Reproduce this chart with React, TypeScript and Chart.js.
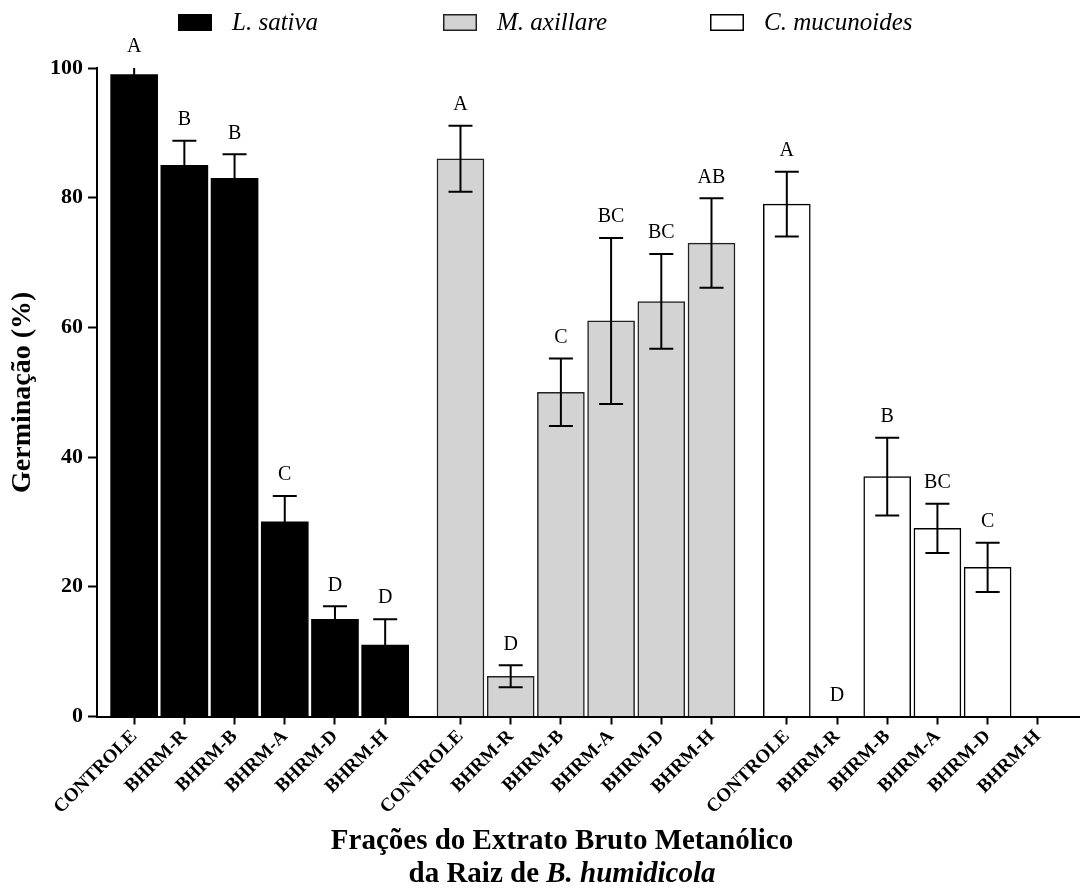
import React, { useEffect, useRef } from 'react';
import { Chart, registerables } from 'chart.js';

Chart.register(...registerables);

const CATEGORIES = ['CONTROLE', 'BHRM-R', 'BHRM-B', 'BHRM-A', 'BHRM-D', 'BHRM-H'];
const SPECIES = ['L. sativa', 'M. axillare', 'C. mucunoides'];

const POS_SATIVA = [0, 1, 2, 3, 4, 5];
const POS_AXILLARE = [6.5, 7.5, 8.5, 9.5, 10.5, 11.5];
const POS_MUCUNOIDES = [13, 14, 15, 16, 17, 18];

const VAL_SATIVA = [99, 85, 83, 30, 15, 11];
const VAL_AXILLARE = [86, 6.2, 50, 61, 64, 73];
const VAL_MUCUNOIDES = [79, 0, 37, 29, 23, 0];

const ERR_SATIVA = [1.3, 3.8, 3.7, 4, 2, 4];
const ERR_AXILLARE = [5.1, 1.7, 5.2, 12.8, 7.3, 6.9];
const ERR_MUCUNOIDES = [5, 0, 6, 3.8, 3.8, 0];

const LET_SATIVA = ['A', 'B', 'B', 'C', 'D', 'D'];
const LET_AXILLARE = ['A', 'D', 'C', 'BC', 'BC', 'AB'];
const LET_MUCUNOIDES = ['A', 'D', 'B', 'BC', 'C', ''];

const Y_TICKS = [0, 20, 40, 60, 80, 100];

const FONT = '"Liberation Serif", "Times New Roman", serif';

const POSITIONS = [POS_SATIVA, POS_AXILLARE, POS_MUCUNOIDES];
const VALUES = [VAL_SATIVA, VAL_AXILLARE, VAL_MUCUNOIDES];
const ERRORS = [ERR_SATIVA, ERR_AXILLARE, ERR_MUCUNOIDES];
const LETTERS = [LET_SATIVA, LET_AXILLARE, LET_MUCUNOIDES];
const FILLS = ['#000000', '#d3d3d3', '#ffffff'];
const BORDERS = ['#000000', '#222222', '#000000'];
const BORDER_W = [0, 1.5, 1.5];

const ALL_POS = [...POS_SATIVA, ...POS_AXILLARE, ...POS_MUCUNOIDES];
const ALL_LABELS = [...CATEGORIES, ...CATEGORIES, ...CATEGORIES];

const errorPlugin = {
  id: 'errorLetters',
  afterDatasetsDraw(chart: any) {
    const { ctx, scales, chartArea } = chart;
    const xs = scales.x;
    const ys = scales.y;
    ctx.save();
    ctx.beginPath();
    ctx.rect(chartArea.left, chartArea.top, chartArea.right - chartArea.left, chartArea.bottom - chartArea.top);
    ctx.clip();
    ctx.strokeStyle = '#000';
    ctx.lineWidth = 2;
    chart.data.datasets.forEach((ds: any, di: number) => {
      const errs = ERRORS[di];
      ds.data.forEach((p: any, i: number) => {
        const e = errs[i];
        if (e <= 0) return;
        const px = xs.getPixelForValue(p.x);
        const yt = ys.getPixelForValue(p.y + e);
        const yb = ys.getPixelForValue(p.y - e);
        ctx.beginPath();
        ctx.moveTo(px, yb);
        ctx.lineTo(px, yt);
        ctx.moveTo(px - 12, yt);
        ctx.lineTo(px + 12, yt);
        ctx.moveTo(px - 12, yb);
        ctx.lineTo(px + 12, yb);
        ctx.stroke();
      });
    });
    ctx.restore();
    ctx.save();
    ctx.fillStyle = '#000';
    ctx.font = `20px ${FONT}`;
    ctx.textAlign = 'center';
    ctx.textBaseline = 'middle';
    chart.data.datasets.forEach((ds: any, di: number) => {
      const errs = ERRORS[di];
      const lets = LETTERS[di];
      ds.data.forEach((p: any, i: number) => {
        if (!lets[i]) return;
        const px = xs.getPixelForValue(p.x);
        const yt = Math.max(ys.getPixelForValue(p.y + errs[i]), chartArea.top);
        ctx.fillText(lets[i], px, yt - 21);
      });
    });
    ctx.restore();
  },
};

const legendPlugin = {
  id: 'customLegend',
  afterDraw(chart: any) {
    const { ctx } = chart;
    const starts = [178, 443, 710];
    ctx.save();
    chart.data.datasets.forEach((ds: any, i: number) => {
      const x = starts[i];
      const y = 14;
      ctx.fillStyle = ds.backgroundColor;
      ctx.fillRect(x, y, 34, 17);
      if (ds.borderWidth > 0) {
        ctx.strokeStyle = ds.borderColor;
        ctx.lineWidth = 1.5;
        ctx.strokeRect(x + 0.75, y + 0.75, 32.5, 15.5);
      }
      ctx.fillStyle = '#000';
      ctx.font = `italic 25px ${FONT}`;
      ctx.textAlign = 'left';
      ctx.textBaseline = 'middle';
      ctx.fillText(ds.label, x + 54, y + 9);
    });
    ctx.restore();
  },
};

const xTitlePlugin = {
  id: 'xTitle',
  afterDraw(chart: any) {
    const { ctx } = chart;
    const cx = 562;
    ctx.save();
    ctx.fillStyle = '#000';
    ctx.textBaseline = 'middle';
    ctx.textAlign = 'center';
    ctx.font = `bold 29px ${FONT}`;
    ctx.fillText('Frações do Extrato Bruto Metanólico', cx, 842);
    const a = 'da Raiz de ';
    const b = 'B. humidicola';
    ctx.font = `bold 29px ${FONT}`;
    const wa = ctx.measureText(a).width;
    ctx.font = `bold italic 29px ${FONT}`;
    const wb = ctx.measureText(b).width;
    const x0 = cx - (wa + wb) / 2;
    ctx.textAlign = 'left';
    ctx.font = `bold 29px ${FONT}`;
    ctx.fillText(a, x0, 875);
    ctx.font = `bold italic 29px ${FONT}`;
    ctx.fillText(b, x0 + wa, 875);
    ctx.restore();
  },
};

export default function App() {
  const ref = useRef<HTMLCanvasElement>(null);
  useEffect(() => {
    if (!ref.current) return;
    const datasets = SPECIES.map((name, di) => ({
      label: name,
      data: POSITIONS[di].map((x, i) => ({ x, y: VALUES[di][i] })),
      backgroundColor: FILLS[di],
      borderColor: BORDERS[di],
      borderWidth: BORDER_W[di],
      barThickness: 47,
      grouped: false,
    }));
    const chart = new Chart(ref.current, {
      type: 'bar',
      data: { datasets } as any,
      options: {
        responsive: false,
        animation: false,
        layout: { padding: { top: 68, right: 0, left: 0, bottom: 0 } },
        plugins: {
          legend: { display: false },
          tooltip: { enabled: false },
        },
        scales: {
          x: {
            type: 'linear',
            min: -0.74,
            max: 18.84,
            offset: false,
            afterBuildTicks: (scale: any) => {
              scale.ticks = ALL_POS.map((v) => ({ value: v }));
            },
            afterFit: (scale: any) => {
              scale.height = 173.5;
            },
            ticks: {
              autoSkip: false,
              minRotation: 45,
              maxRotation: 45,
              padding: 1,
              color: '#000',
              font: { family: FONT, size: 19, weight: 'bold' },
              callback: (_v: any, i: number) => ALL_LABELS[i],
            },
            grid: {
              display: true,
              offset: false,
              drawOnChartArea: false,
              drawTicks: true,
              tickLength: 8,
              tickColor: '#000',
              tickWidth: 2,
            },
            border: { display: true, color: '#000', width: 2 },
          },
          y: {
            type: 'linear',
            min: 0,
            max: 100,
            afterBuildTicks: (scale: any) => {
              scale.ticks = Y_TICKS.map((v) => ({ value: v }));
            },
            afterFit: (scale: any) => {
              scale.width = 97;
            },
            ticks: {
              padding: 5,
              color: '#000',
              font: { family: FONT, size: 22, weight: 'bold' },
            },
            grid: {
              display: true,
              drawOnChartArea: false,
              drawTicks: true,
              tickLength: 9,
              tickColor: '#000',
              tickWidth: 2,
            },
            border: { display: true, color: '#000', width: 2 },
            title: {
              display: true,
              text: 'Germinação (%)',
              color: '#000',
              font: { family: FONT, size: 28, weight: 'bold' },
              padding: { top: 6, bottom: 0 },
            },
          },
        },
      } as any,
      plugins: [errorPlugin, legendPlugin, xTitlePlugin],
    });
    return () => chart.destroy();
  }, []);
  return (
    <div style={{ position: 'absolute', left: 0, top: 0, width: 1080, height: 890, background: '#fff' }}>
      <canvas ref={ref} width={1080} height={890} />
    </div>
  );
}
